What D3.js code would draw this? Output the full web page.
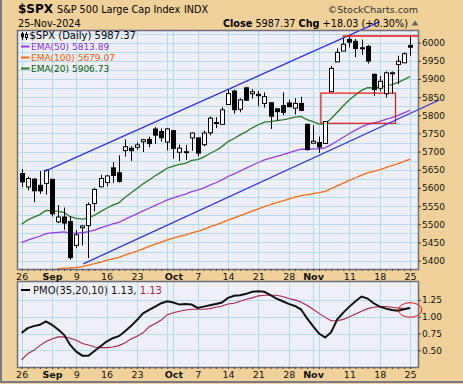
<!DOCTYPE html>
<html>
<head>
<meta charset="utf-8">
<script src="https://cdn.jsdelivr.net/npm/d3@7"></script>
<style>
  body { margin: 0; background: #fff; }
  svg { display: block; }
  text { font-family: "DejaVu Sans", Verdana, sans-serif; }
</style>
</head>
<body>
<div id="chart"></div>
<script>
// trading days shown on the chart
const dates = ["2024-08-26","2024-08-27","2024-08-28","2024-08-29","2024-08-30",
  "2024-09-03","2024-09-04","2024-09-05","2024-09-06",
  "2024-09-09","2024-09-10","2024-09-11","2024-09-12","2024-09-13",
  "2024-09-16","2024-09-17","2024-09-18","2024-09-19","2024-09-20",
  "2024-09-23","2024-09-24","2024-09-25","2024-09-26","2024-09-27",
  "2024-09-30","2024-10-01","2024-10-02","2024-10-03","2024-10-04",
  "2024-10-07","2024-10-08","2024-10-09","2024-10-10","2024-10-11",
  "2024-10-14","2024-10-15","2024-10-16","2024-10-17","2024-10-18",
  "2024-10-21","2024-10-22","2024-10-23","2024-10-24","2024-10-25",
  "2024-10-28","2024-10-29","2024-10-30","2024-10-31","2024-11-01",
  "2024-11-04","2024-11-05","2024-11-06","2024-11-07","2024-11-08",
  "2024-11-11","2024-11-12","2024-11-13","2024-11-14","2024-11-15",
  "2024-11-18","2024-11-19","2024-11-20","2024-11-21","2024-11-22",
  "2024-11-25"];

const openP = [5639.7,5602.9,5624.5,5607.3,5612.7, 5623.9,5506.7,5520.1,5507.3,
  5442.1,5490.5,5496.4,5557.5,5603.3, 5615.2,5655.5,5641.7,5702.8,5709.3,
  5711.9,5727.3,5733.7,5762.2,5755.4, 5726.5,5757.7,5698.2,5698.6,5737.8,
  5737.8,5719.1,5751.8,5778.4,5775.1, 5829.8,5866.7,5816.6,5875.6,5859.4,
  5857.8,5832.7,5834.5,5817.8,5826.8, 5833.9,5819.7,5832.7,5775.3,5723.2,
  5725.2,5722.4,5864.9,5947.2,5976.8, 6008.9,6003.6,5985.8,5989.7,5912.8,
  5874.2,5859.4,5914.6,5940.0,5944.4, 5992.3];
const highP = [5651.6,5631.2,5627.0,5647.0,5651.4, 5623.9,5553.0,5546.3,5522.5,
  5484.2,5497.9,5560.4,5600.7,5636.3, 5636.1,5670.8,5689.8,5733.6,5715.1,
  5725.4,5735.3,5741.0,5767.4,5763.8, 5765.1,5757.7,5719.1,5718.8,5753.1,
  5739.3,5757.6,5796.8,5795.0,5822.1, 5871.4,5870.4,5846.5,5878.5,5872.2,
  5866.9,5863.0,5834.9,5817.8,5862.8, 5842.9,5847.2,5850.9,5775.3,5772.5,
  5741.4,5783.4,5936.1,5983.8,6012.5, 6017.3,6009.9,6008.2,5993.9,5915.3,
  5908.1,5920.7,5920.6,5963.9,5972.9, 6020.8];
const lowP = [5602.3,5593.5,5561.0,5583.7,5581.8, 5521.6,5503.7,5485.0,5402.6,
  5434.5,5441.7,5407.0,5535.5,5601.7, 5604.5,5614.1,5615.1,5686.4,5674.5,
  5704.9,5699.0,5712.1,5721.0,5727.3, 5703.5,5681.3,5674.0,5677.4,5702.8,
  5686.9,5714.6,5745.0,5764.8,5775.1, 5829.8,5804.5,5808.3,5840.3,5846.1,
  5824.8,5821.2,5762.4,5784.9,5800.0, 5823.1,5802.5,5811.3,5702.9,5723.2,
  5696.5,5722.1,5864.9,5947.2,5976.8, 5986.7,5960.1,5965.9,5942.3,5853.0,
  5866.0,5849.1,5860.1,5885.9,5944.4, 5963.9];
const closeP = [5616.8,5625.8,5592.2,5592.0,5648.4, 5528.9,5520.1,5503.4,5408.4,
  5471.1,5495.5,5554.1,5595.8,5626.0, 5633.1,5634.6,5618.3,5713.6,5702.6,
  5718.6,5732.9,5722.3,5745.4,5738.2, 5762.5,5708.8,5709.5,5699.9,5751.1,
  5695.9,5751.1,5792.0,5780.1,5815.0, 5859.9,5815.3,5842.5,5841.5,5864.7,
  5854.0,5851.2,5797.4,5809.9,5808.1, 5823.5,5832.9,5813.7,5705.5,5728.8,
  5712.7,5782.8,5929.0,5973.1,5995.5, 6001.4,5984.0,5985.4,5949.2,5870.6,
  5893.6,5917.0,5917.1,5948.7,5969.3, 5987.4];

// moving averages
const ema20 = [5500.3,5512.2,5519.8,5526.7,5538.3, 5537.4,5535.7,5532.6,5520.8,
  5516.1,5514.1,5517.9,5525.3,5534.9, 5544.2,5552.8,5559.0,5573.7,5586.0,
  5598.6,5611.4,5622.0,5633.7,5643.6, 5654.9,5660.0,5664.7,5668.0,5675.9,
  5677.8,5684.8,5695.0,5703.1,5713.8, 5727.7,5736.0,5746.1,5755.2,5765.6,
  5774.0,5781.3,5782.8,5785.4,5787.6, 5791.0,5795.0,5796.8,5788.1,5782.5,
  5775.9,5776.5,5791.0,5808.3,5826.1, 5842.8,5856.2,5868.5,5876.2,5875.7,
  5877.4,5881.2,5884.6,5890.7,5898.2, 5906.7];
const ema50 = [5449.8,5456.7,5462.0,5467.1,5474.2, 5476.3,5478.0,5479.0,5476.2,
  5476.0,5476.8,5479.8,5484.3,5489.9, 5495.5,5501.0,5505.6,5513.8,5521.2,
  5528.9,5536.9,5544.2,5552.1,5559.4, 5567.4,5572.9,5578.3,5583.1,5589.7,
  5593.9,5600.1,5607.6,5614.4,5622.3, 5631.6,5638.8,5646.8,5654.4,5662.6,
  5670.1,5677.2,5681.9,5686.9,5691.7, 5696.9,5702.2,5706.6,5706.6,5707.5,
  5707.7,5710.6,5719.2,5729.2,5739.6, 5749.9,5759.1,5768.0,5775.1,5778.8,
  5783.4,5788.7,5793.8,5800.0,5806.8, 5813.9];
const ema100 = [5351.7,5357.0,5361.5,5366.0,5371.3, 5374.3,5377.0,5379.3,5379.7,
  5381.3,5383.4,5387.6,5391.6,5396.1, 5400.6,5405.1,5409.2,5415.1,5420.6,
  5426.4,5432.3,5439.4,5445.3,5451.0, 5457.0,5461.9,5466.7,5471.2,5476.6,
  5480.8,5486.0,5492.9,5498.5,5504.7, 5511.6,5517.5,5523.8,5530.0,5536.5,
  5542.7,5548.7,5554.5,5559.5,5564.3, 5569.4,5574.5,5579.2,5581.6,5584.4,
  5586.9,5590.7,5598.3,5605.7,5613.4, 5621.0,5628.1,5635.1,5641.3,5645.8,
  5650.6,5655.8,5661.4,5667.0,5672.9, 5679.1];

// price momentum oscillator and its signal line
const pmo = [0.76,0.83,0.86,0.88,0.93, 0.88,0.81,0.73,0.58,
  0.48,0.42,0.42,0.49,0.56, 0.63,0.68,0.71,0.78,0.86,
  0.95,1.05,1.10,1.15,1.20, 1.23,1.21,1.18,1.19,1.18,
  1.13,1.15,1.17,1.19,1.21, 1.28,1.31,1.32,1.34,1.37,
  1.38,1.37,1.32,1.27,1.23, 1.19,1.16,1.11,0.98,0.86,
  0.75,0.69,0.77,0.96,1.06, 1.15,1.23,1.30,1.27,1.20,
  1.15,1.12,1.10,1.09,1.11, 1.13];
const pmoSignal = [0.36,0.45,0.50,0.57,0.63, 0.67,0.70,0.70,0.68,
  0.65,0.60,0.58,0.55,0.54, 0.54,0.55,0.57,0.61,0.67,
  0.71,0.76,0.85,0.90,0.95, 1.03,1.06,1.08,1.10,1.11,
  1.11,1.11,1.12,1.14,1.16, 1.19,1.20,1.23,1.26,1.28,
  1.31,1.32,1.32,1.32,1.30, 1.27,1.25,1.22,1.17,1.11,
  1.05,0.99,0.94,0.94,0.96, 1.00,1.04,1.08,1.12,1.14,
  1.15,1.15,1.14,1.13,1.12, 1.13];

// axis labels
const tickDates = ["2024-08-26","2024-09-03","2024-09-09","2024-09-16","2024-09-23",
  "2024-10-01","2024-10-07","2024-10-14","2024-10-21","2024-10-28",
  "2024-11-01","2024-11-11","2024-11-18","2024-11-25"];
const tickText = ["26","Sep","9","16","23","Oct","7","14","21","28","Nov","11","18","25"];
const monthNames = ["Sep","Oct","Nov"];
const gridDates = ["2024-08-26","2024-09-03","2024-09-09","2024-09-16","2024-09-23",
  "2024-09-30","2024-10-01","2024-10-07","2024-10-14","2024-10-21","2024-10-28",
  "2024-11-01","2024-11-04","2024-11-11","2024-11-18","2024-11-25"];
const priceTicks = [5400,5450,5500,5550,5600,5650,5700,5750,5800,5850,5900,5950,6000];
const priceGrid = d3.range(5400, 6026, 25);
const pmoTicks = [0.5,0.75,1.0,1.25];

// annotations (day index, price)
const channelUpper = [[3.7, 5645], [59.0, 6057.8]];
const channelLower = [[10.15, 5391], [68.8, 5842.3]];
const gapBox = { i0: 49.3, i1: 61.6, lo: 5778, hi: 5861 };
const resistance = { i0: 52.9, i1: 65.3, v: 6018 };
const pmoCircle = { i: 64, v: 1.10 };

// ---- layout ----
const W = 463, H = 384;
const L = 18, R = 418;
const T1 = 31, B1 = 269, T2 = 282, B2 = 367;

const svg = d3.select("#chart").append("svg")
  .attr("width", W).attr("height", H);

svg.append("rect").attr("width", W).attr("height", H).attr("fill", "#F0D199");
// outer frame edge on the left and bottom
svg.append("path").attr("d", `M1,0V${H - 2}H${W}`)
  .attr("fill", "none").attr("stroke", "#7A7A88").attr("stroke-width", 2);

let x = d3.scaleLinear().domain([-0.6, 65.3]).range([L, R]);
let y = d3.scaleLinear().domain([5377, 6032]).range([B1, T1]);
let yp = d3.scaleLinear().domain([0.252, 1.516]).range([B2, T2]);

const idx = d => dates.indexOf(d);

let defs = svg.append("defs");
defs.append("clipPath").attr("id", "clipMain")
  .append("rect").attr("x", L).attr("y", T1).attr("width", R - L).attr("height", B1 - T1);
defs.append("clipPath").attr("id", "clipPmo")
  .append("rect").attr("x", L).attr("y", T2).attr("width", R - L).attr("height", B2 - T2);

// panel backgrounds
[[T1, B1], [T2, B2]].forEach(function (p) {
  svg.append("rect").attr("x", L).attr("y", p[0])
    .attr("width", R - L).attr("height", p[1] - p[0])
    .attr("fill", "#EFEFF7");
});

// grid lines
const gridColor = "#B3DDEC";
let grid = svg.append("g").attr("stroke", gridColor).attr("stroke-width", 1);
gridDates.forEach(function (d) {
  let gx = Math.round(x(idx(d))) + 0.5;
  grid.append("line").attr("x1", gx).attr("x2", gx).attr("y1", T1).attr("y2", B1);
  grid.append("line").attr("x1", gx).attr("x2", gx).attr("y1", T2).attr("y2", B2);
});
priceGrid.forEach(function (v) {
  let gy = Math.round(y(v)) + 0.5;
  grid.append("line").attr("x1", L).attr("x2", R).attr("y1", gy).attr("y2", gy);
});
pmoTicks.forEach(function (v) {
  let gy = Math.round(yp(v)) + 0.5;
  grid.append("line").attr("x1", L).attr("x2", R).attr("y1", gy).attr("y2", gy);
});

// ---- price panel ----
let main = svg.append("g").attr("clip-path", "url(#clipMain)");

function emaLine(values, color) {
  main.append("path")
    .attr("d", d3.line().x((d, i) => x(i)).y(d => y(d))(values))
    .attr("fill", "none").attr("stroke", color).attr("stroke-width", 1.3);
}
emaLine(ema100, "#FF6A10");
emaLine(ema50, "#9B3BEB");
emaLine(ema20, "#2A7A2A");

// gap box
main.append("rect")
  .attr("x", x(gapBox.i0)).attr("y", y(gapBox.hi))
  .attr("width", x(gapBox.i1) - x(gapBox.i0)).attr("height", y(gapBox.lo) - y(gapBox.hi))
  .attr("fill", "none").attr("stroke", "#EE1111").attr("stroke-width", 1.2);

// candles
let candles = main.selectAll("g.candle").data(dates).enter().append("g");
candles.append("line")
  .attr("x1", (d, i) => Math.round(x(i)) + 0.5)
  .attr("x2", (d, i) => Math.round(x(i)) + 0.5)
  .attr("y1", (d, i) => y(highP[i]))
  .attr("y2", (d, i) => y(lowP[i]))
  .attr("stroke", "#000").attr("stroke-width", 1);
candles.append("rect")
  .attr("x", (d, i) => Math.round(x(i)) - 1.5)
  .attr("width", 4)
  .attr("y", (d, i) => y(Math.max(openP[i], closeP[i])))
  .attr("height", (d, i) => Math.max(1, Math.abs(y(openP[i]) - y(closeP[i]))))
  .attr("fill", (d, i) => closeP[i] >= openP[i] ? "#fff" : "#000")
  .attr("stroke", "#000").attr("stroke-width", 1);

// channel lines (drawn past the panel like the original)
[channelUpper, channelLower].forEach(function (c) {
  svg.append("path")
    .attr("d", d3.line()(c.map(p => [x(p[0]), y(p[1])])))
    .attr("stroke", "#3030F0").attr("stroke-width", 1.2).attr("fill", "none");
});
svg.append("line")
  .attr("x1", x(resistance.i0)).attr("x2", x(resistance.i1))
  .attr("y1", y(resistance.v)).attr("y2", y(resistance.v))
  .attr("stroke", "#EE1111").attr("stroke-width", 1.5);

// ---- PMO panel ----
let lower = svg.append("g").attr("clip-path", "url(#clipPmo)");
lower.append("path")
  .attr("d", d3.line().x((d, i) => x(i)).y(d => yp(d))(pmoSignal))
  .attr("fill", "none").attr("stroke", "#A8234F").attr("stroke-width", 1.1);
lower.append("path")
  .attr("d", d3.line().x((d, i) => x(i)).y(d => yp(d))(pmo))
  .attr("fill", "none").attr("stroke", "#111").attr("stroke-width", 2);
svg.append("ellipse")
  .attr("cx", x(pmoCircle.i)).attr("cy", yp(pmoCircle.v))
  .attr("rx", 11.7).attr("ry", 7.3)
  .attr("fill", "none").attr("stroke", "#EE1111").attr("stroke-width", 1);

// panel borders
[[T1, B1], [T2, B2]].forEach(function (p) {
  svg.append("rect").attr("x", L - 0.5).attr("y", p[0] - 0.5)
    .attr("width", R - L + 1).attr("height", p[1] - p[0] + 1)
    .attr("fill", "none").attr("stroke", "#6E6E80").attr("stroke-width", 1.5);
});

// ---- axes ----
function styleAxis(g, size) {
  g.select(".domain").remove();
  g.selectAll("text").attr("font-family", "DejaVu Sans, Verdana, sans-serif")
    .attr("font-size", size).attr("fill", "#111");
  g.selectAll(".tick line").attr("stroke", "#444");
}
svg.append("g").attr("transform", `translate(${R},0)`)
  .call(d3.axisRight(y).tickValues(priceTicks).tickSize(3).tickPadding(1).tickFormat(d3.format("d")))
  .call(g => styleAxis(g, 9));
svg.append("g").attr("transform", `translate(${R},0)`)
  .call(d3.axisRight(yp).tickValues(pmoTicks).tickSize(3).tickPadding(1).tickFormat(d3.format(".2f")))
  .call(g => styleAxis(g, 9));

const tickPos = tickDates.map(idx);
[B1, B2].forEach(function (b) {
  // small day ticks
  svg.append("g").attr("transform", `translate(0,${b})`)
    .call(d3.axisBottom(x).tickValues(d3.range(dates.length)).tickSize(2).tickFormat(""))
    .call(g => styleAxis(g, 9));
  svg.append("g").attr("transform", `translate(0,${b})`)
    .call(d3.axisBottom(x).tickValues(tickPos).tickSize(0).tickPadding(4)
      .tickFormat((d, i) => tickText[i]))
    .call(g => styleAxis(g, 9.5))
    .selectAll("text")
    .attr("font-weight", (d, i) => monthNames.includes(tickText[i]) ? "bold" : "normal");
});

// ---- legends ----
let leg = svg.append("g");
// candlestick icon
leg.append("path").attr("d", "M22.5,32v8M26.5,32v8").attr("stroke", "#000");
leg.append("rect").attr("x", 21).attr("y", 33.5).attr("width", 3).attr("height", 4).attr("fill", "#000");
leg.append("rect").attr("x", 25.5).attr("y", 34.5).attr("width", 2).attr("height", 3)
  .attr("fill", "#fff").attr("stroke", "#000").attr("stroke-width", 1);
leg.append("text").attr("x", 29.5).attr("y", 39)
  .attr("font-family", "DejaVu Sans Mono, monospace").attr("font-size", 10)
  .text("$SPX (Daily) 5987.37");

const legRows = [
  ["EMA(50) 5813.89", "#8A2BE2", "#9B3BEB"],
  ["EMA(100) 5679.07", "#FF5A00", "#FF6A10"],
  ["EMA(20) 5906.73", "#0A5A0A", "#2A7A2A"]
];
legRows.forEach(function (r, k) {
  let by = 50 + k * 11;
  leg.append("line").attr("x1", 21).attr("x2", 29.5).attr("y1", by - 3.5).attr("y2", by - 3.5)
    .attr("stroke", r[2]).attr("stroke-width", 2);
  leg.append("text").attr("x", 31).attr("y", by).attr("font-size", 9)
    .attr("fill", r[1]).text(r[0]);
});

leg.append("line").attr("x1", 21).attr("x2", 30).attr("y1", 290).attr("y2", 290)
  .attr("stroke", "#000").attr("stroke-width", 2);
let pmoText = leg.append("text").attr("x", 33).attr("y", 293.5)
  .attr("font-family", "DejaVu Sans Mono, monospace").attr("font-size", 10);
pmoText.append("tspan").attr("fill", "#111").text("PMO(35,20,10) 1.13, ");
pmoText.append("tspan").attr("fill", "#A8234F").text("1.13");

// ---- header ----
let head = svg.append("g");
head.append("text").attr("x", 18).attr("y", 13).attr("font-size", 12)
  .attr("font-weight", "bold").text("$SPX");
head.append("text").attr("x", 57).attr("y", 13).attr("font-size", 9.7)
  .text("S&P 500 Large Cap Index");
head.append("text").attr("x", 184).attr("y", 13).attr("font-size", 9.7).text("INDX");
head.append("text").attr("x", 418).attr("y", 13).attr("font-size", 9.5)
  .attr("text-anchor", "end").attr("fill", "#333").text("\u00A9StockCharts.com");
head.append("text").attr("x", 18).attr("y", 26.5).attr("font-size", 9.7).text("25-Nov-2024");
let close = head.append("text").attr("x", 408).attr("y", 26.5).attr("font-size", 9.7)
  .attr("text-anchor", "end");
close.append("tspan").attr("font-weight", "bold").text("Close");
close.append("tspan").text(" 5987.37 ");
close.append("tspan").attr("font-weight", "bold").text("Chg");
close.append("tspan").text(" +18.03 (+0.30%)");
head.append("path").attr("d", "M411.5,25.5L415,20.5L418.5,25.5Z").attr("fill", "#666");
</script>
</body>
</html>
